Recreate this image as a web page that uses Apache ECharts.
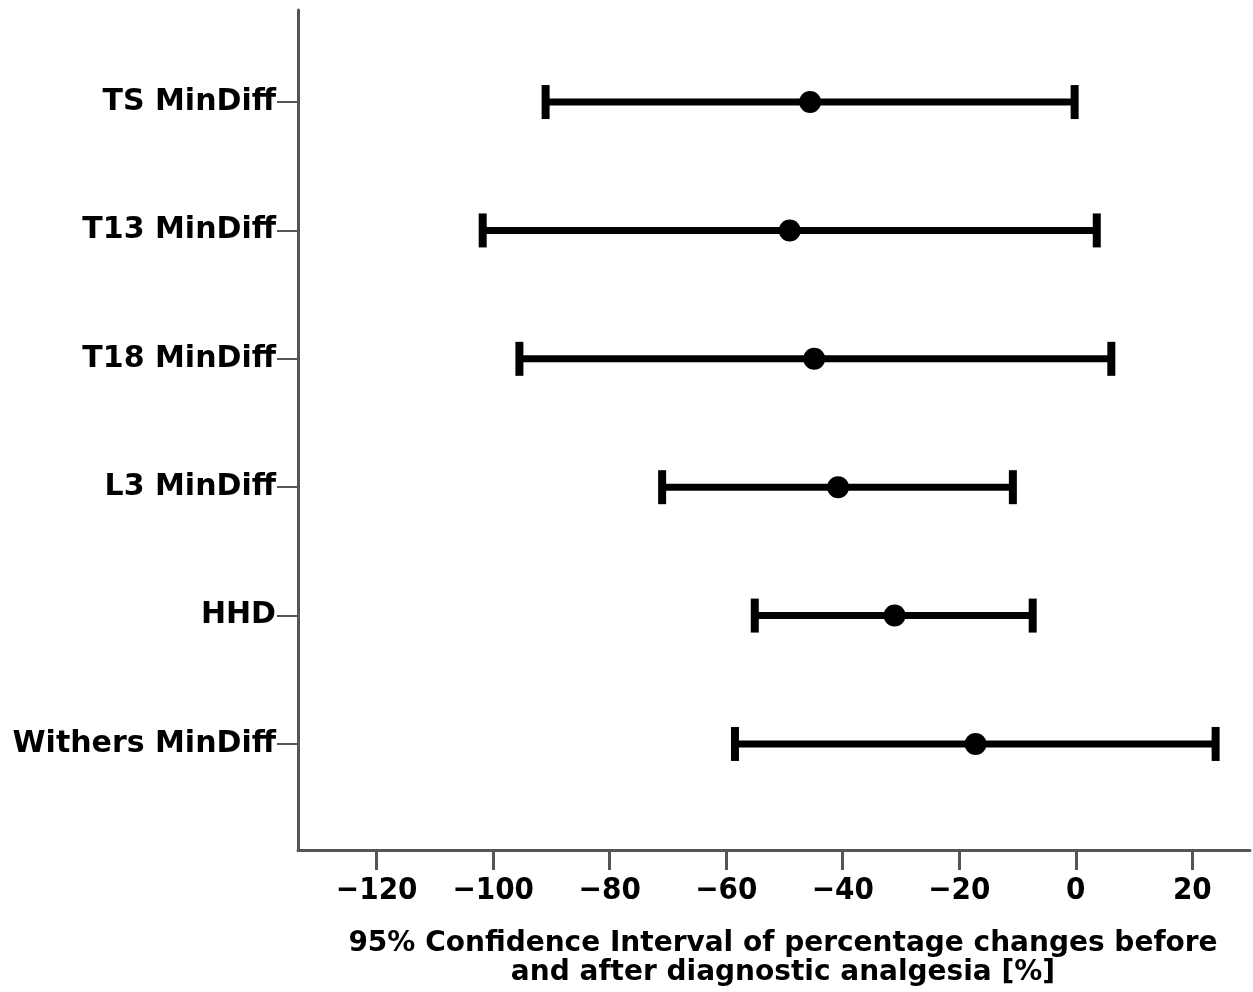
<!DOCTYPE html>
<html>
<head>
<meta charset="utf-8">
<script src="https://cdn.jsdelivr.net/npm/echarts@6/dist/echarts.min.js"></script>
<style>
html,body{margin:0;padding:0;background:#fff;}
#chart{width:1253px;height:992px;}
</style>
</head>
<body>
<div id="chart"></div>
<script>
// Data (top-level named arrays)
var categories = ['TS MinDiff', 'T13 MinDiff', 'T18 MinDiff', 'L3 MinDiff', 'HHD', 'Withers MinDiff'];
var lowerCI = [-91.0, -101.8, -95.5, -71.0, -55.1, -58.5];
var meanVal = [-45.6, -49.1, -44.9, -40.8, -31.1, -17.2];
var upperCI = [-0.2, 3.6, 6.1, -10.8, -7.4, 24.0];
var xTickValues = [-120, -100, -80, -60, -40, -20, 0, 20];
var xAxisTitle = '95% Confidence Interval of percentage changes before\nand after diagnostic analgesia [%]';

var FONT_C = '"DejaVu Sans Condensed", "DejaVu Sans", sans-serif';
var FONT_W = '"DejaVu Sans", sans-serif';
var AXIS_COLOR = '#555555';

var ciData = categories.map(function (c, i) { return [i, lowerCI[i], upperCI[i]]; });
var meanData = categories.map(function (c, i) { return [meanVal[i], i]; });
var yIdx = categories.map(function (c, i) { return i; });

var chart = echarts.init(document.getElementById('chart'), null, {renderer: 'canvas'});
chart.setOption({
  backgroundColor: '#ffffff',
  animation: false,
  grid: {left: 298, right: 3, top: 10, bottom: 142, containLabel: false},
  xAxis: {
    type: 'value',
    min: -133.5,
    max: 29.9,
    splitLine: {show: false},
    axisLine: {show: true, onZero: false, lineStyle: {color: AXIS_COLOR, width: 3}},
    axisTick: {show: true, length: 20, customValues: xTickValues, lineStyle: {color: AXIS_COLOR, width: 3}},
    axisLabel: {
      customValues: xTickValues,
      margin: 25,
      color: '#000',
      fontFamily: FONT_C,
      fontWeight: 'bold',
      fontSize: 31,
      formatter: function (v) { return String(v).replace('-', '\u2212'); }
    },
    name: xAxisTitle,
    nameLocation: 'middle',
    nameGap: 79,
    nameTextStyle: {
      color: '#000',
      fontFamily: FONT_W,
      fontWeight: 'bold',
      fontSize: 28,
      lineHeight: 29,
      padding: [0, 0, 0, 18]
    }
  },
  yAxis: {
    type: 'value',
    inverse: true,
    min: -0.717,
    max: 5.826,
    splitLine: {show: false},
    axisLine: {show: true, onZero: false, lineStyle: {color: AXIS_COLOR, width: 3}},
    axisTick: {show: true, length: 21, customValues: yIdx, lineStyle: {color: AXIS_COLOR, width: 2}},
    axisLabel: {
      customValues: yIdx,
      margin: 22,
      color: '#000',
      fontFamily: FONT_W,
      fontWeight: 'bold',
      fontSize: 30,
      formatter: function (v) { return categories[Math.round(v)]; }
    }
  },
  series: [
    {
      type: 'custom',
      data: ciData,
      encode: {x: [1, 2], y: 0},
      renderItem: function (params, api) {
        var yi = api.value(0);
        var lo = api.coord([api.value(1), yi]);
        var hi = api.coord([api.value(2), yi]);
        var capH = 17;
        var style = {stroke: '#000', lineWidth: 7, fill: null};
        return {
          type: 'group',
          children: [
            {type: 'line', shape: {x1: lo[0], y1: lo[1], x2: hi[0], y2: hi[1]}, style: style},
            {type: 'line', shape: {x1: lo[0], y1: lo[1] - capH, x2: lo[0], y2: lo[1] + capH}, style: {stroke: '#000', lineWidth: 8}},
            {type: 'line', shape: {x1: hi[0], y1: hi[1] - capH, x2: hi[0], y2: hi[1] + capH}, style: {stroke: '#000', lineWidth: 8}}
          ]
        };
      },
      z: 2
    },
    {
      type: 'scatter',
      data: meanData,
      symbol: 'circle',
      symbolSize: 22,
      itemStyle: {color: '#000', opacity: 1},
      z: 3
    }
  ]
});
</script>
</body>
</html>
